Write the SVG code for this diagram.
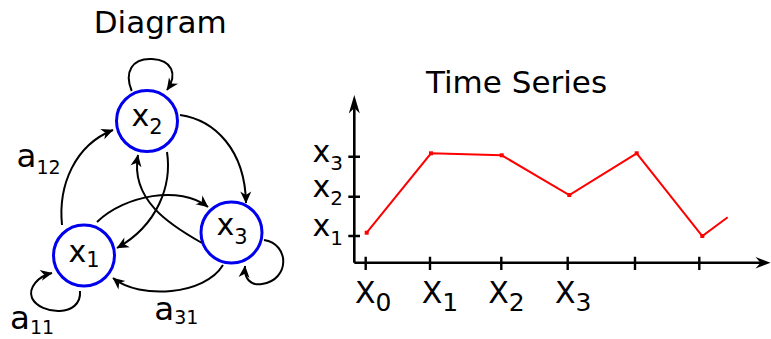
<svg xmlns="http://www.w3.org/2000/svg" width="771" height="339" viewBox="0 0 771 339">
<style>
text{font-family:"DejaVu Sans",Verdana,sans-serif;fill:#000}
.title{font-size:31px}
.node circle{fill:#fff;stroke:#0000ee;stroke-width:3}
.nl{font-size:30px}
.ns{font-size:21px}
.el{font-size:32.5px}
.es{font-size:19px}
.edge{fill:none;stroke:#000;stroke-width:2;marker-end:url(#arr)}
.axis{fill:none;stroke:#000;stroke-width:2.6}
.tick{stroke:#000;stroke-width:2.4}
.series{fill:none;stroke:#ff0000;stroke-width:2}
.pt{fill:#ff0000}
.axl{font-size:30px}
.axs{font-size:20px}
.xs{font-size:25px}
</style>
<defs>
<marker id="arr" markerUnits="userSpaceOnUse" markerWidth="16" markerHeight="14" viewBox="-13 -7 16 14" refX="0" refY="0" orient="auto">
<path d="M0.5,0 L-11.5,-5.5 L-8,0 L-11.5,5.5 Z" fill="#000"/>
</marker>
</defs>
<rect width="771" height="339" fill="#fff"/>
<text class="title" x="93.7" y="33">Diagram</text>
<text class="title" x="426" y="93.3">Time Series</text>

<g id="connectors">
<path class="edge" d="M131.7,91 C124,72 132,58 152,59 C172,60 178,74 167,90"/>
<path class="edge" d="M180,115 C215,120 245,150 246,203"/>
<path class="edge" d="M167,152 C172,185 158,225 117,248"/>
<path class="edge" d="M62,225 C58,185 75,145 113,130"/>
<path class="edge" d="M202,243 C170,225 130,200 138,155"/>
<path class="edge" d="M97,222 C125,195 180,185 208,207"/>
<path class="edge" d="M223,265 C205,295 140,300 113,278"/>
<path class="edge" d="M80,291 C82,318 40,315 32,298 C28,288 38,276 52,273"/>
<path class="edge" d="M264,240 C290,244 290,280 262,284 C250,286 244,278 245,266"/>
</g>

<g id="node-x2" class="node">
<circle cx="147" cy="121" r="30.5"/>
<text class="nl" x="131.5" y="126">x<tspan class="ns" dy="8.3">2</tspan></text>
</g>
<g id="node-x1" class="node">
<circle cx="84" cy="255.5" r="30.5"/>
<text class="nl" x="68.5" y="261.7">x<tspan class="ns" dy="5.6">1</tspan></text>
</g>
<g id="node-x3" class="node">
<circle cx="231.5" cy="232.5" r="30.5"/>
<text class="nl" x="216.5" y="235">x<tspan class="ns" dy="9">3</tspan></text>
</g>

<g id="edge-labels">
<text class="el" x="16.5" y="167.3">a<tspan class="es" dy="7">12</tspan></text>
<text class="el" x="10" y="329.3">a<tspan class="es" dy="4.7">11</tspan></text>
<text class="el" x="154.3" y="320">a<tspan class="es" dy="4.3">31</tspan></text>
</g>

<g id="time-series">
<path class="axis" d="M354.3,262.7 V104 M354.3,262.7 H762"/>
<path d="M354.3,95 L348.8,113.5 L354.3,108 L359.8,113.5 Z" fill="#000"/>
<path d="M770.5,262.7 L755.5,257 L760.5,262.7 L755.5,268.4 Z" fill="#000"/>
<path class="tick" d="M348.3,156.7 H360 M348.3,196.7 H360 M348.3,236 H360 M365.7,256.7 V270 M430,256.7 V270 M501.3,256.7 V270 M567.7,256.7 V270 M635,256.7 V270 M699.3,256.7 V270"/>
<polyline class="series" points="366.7,232.7 431,153.3 501.7,155.3 569.3,195 636.7,153.3 702.3,236 727.7,217.3"/>
<g class="pt">
<rect x="364.7" y="230.7" width="4" height="4"/>
<rect x="429" y="151.3" width="4" height="4"/>
<rect x="499.7" y="153.3" width="4" height="4"/>
<rect x="567.3" y="193" width="4" height="4"/>
<rect x="634.7" y="151.3" width="4" height="4"/>
<rect x="700.3" y="234" width="4" height="4"/>
</g>
<text class="axl" x="312.5" y="161.7">x<tspan class="axs" dy="8.3">3</tspan></text>
<text class="axl" x="312.5" y="196.7">x<tspan class="axs" dy="8.3">2</tspan></text>
<text class="axl" x="312.5" y="236">x<tspan class="axs" dy="9">1</tspan></text>
<text class="axl" x="355" y="303.3">X<tspan class="xs" dy="7.7">0</tspan></text>
<text class="axl" x="421.7" y="303.3">X<tspan class="xs" dy="7.7">1</tspan></text>
<text class="axl" x="488.3" y="303.3">X<tspan class="xs" dy="7.7">2</tspan></text>
<text class="axl" x="555" y="303.3">X<tspan class="xs" dy="7.7">3</tspan></text>
</g>
</svg>
